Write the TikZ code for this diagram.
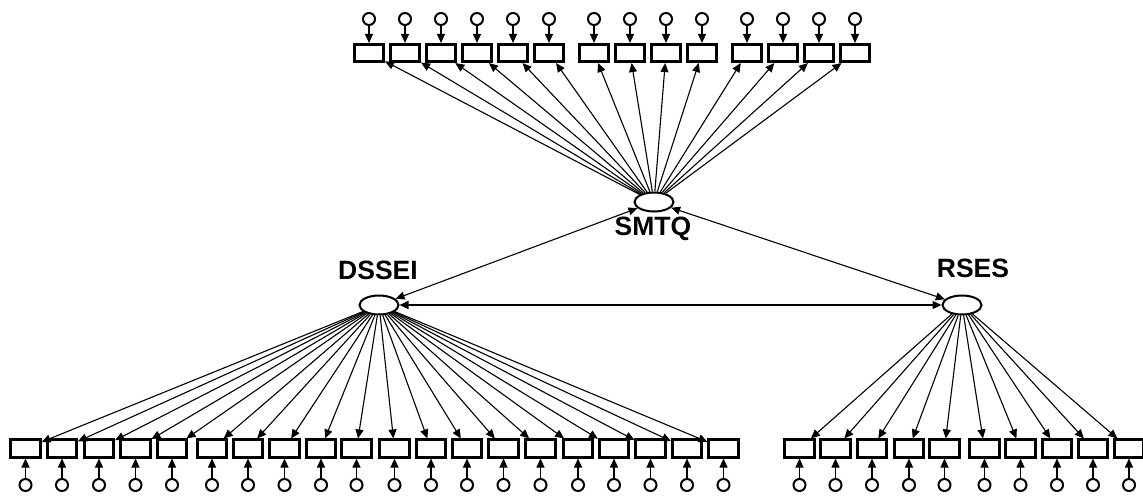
\documentclass[tikz,border=0pt]{standalone}
\usepackage{fontspec}
\setmainfont{Liberation Sans}
\usetikzlibrary{arrows.meta,positioning,shapes.geometric}

\begin{document}
\begin{tikzpicture}[x=1pt,y=-1pt,
  ind/.style={draw,line width=2.6pt,minimum width=29.5pt,minimum height=17.5pt,inner sep=0pt},
  err/.style={draw,circle,line width=2pt,minimum size=12pt,inner sep=0pt},
  lat/.style={draw,ellipse,line width=2pt,minimum width=39pt,minimum height=19pt,inner sep=0pt},
  lab/.style={font=\fontsize{26.5}{30}\selectfont\bfseries},
  link/.style={-{Triangle[length=9pt,width=8pt]},line width=1.1pt},
  cov/.style={{Triangle[length=9pt,width=8pt]}-{Triangle[length=9pt,width=8pt]},line width=1.1pt}]
  \useasboundingbox (0,0) rectangle (1143,496);
  % latent factors
  \node[lat] (smtq) at (654,202) {};
  \node[lat] (dssei) at (379,305) {};
  \node[lat] (rses) at (962,305) {};
  \node[lab] (smtqlab) at (653,229) {SMTQ};
  \node[lab] (dsseilab) at (378,270) {DSSEI};
  \node[lab] (rseslab) at (973,268) {RSES};
  % covariances
  \draw[cov] (smtq) -- (dssei);
  \draw[cov] (smtq) -- (rses);
  \draw[cov] (dssei) -- (rses);
  % SMTQ items
  \foreach \x [count=\i] in {369,405,441,477,513,549,594,630,666,702,747,783,819,855}{
    \node[ind] (t\i) at (\x,53) {};
    \node[err] (te\i) at (\x,19) {};
    \draw[link] (te\i) -- (t\i);
    \draw[link] (smtq) -- (t\i);
  }
  % DSSEI items
  \foreach \x [count=\i] in {25.5,62,99,135.5,172,212,248,284.5,321,356.5,394.5,431,467,503.5,540.5,578,614,650.5,687,723.5}{
    \node[ind] (d\i) at (\x,448.5) {};
    \node[err] (de\i) at (\x,485) {};
    \draw[link] (de\i) -- (d\i);
    \draw[link] (dssei) -- (d\i);
  }
  % RSES items
  \foreach \x [count=\i] in {799.5,835.5,872,909,944.5,984.5,1020.5,1057,1093,1129}{
    \node[ind] (r\i) at (\x,448.5) {};
    \node[err] (re\i) at (\x,485) {};
    \draw[link] (re\i) -- (r\i);
    \draw[link] (rses) -- (r\i);
  }
\end{tikzpicture}
\end{document}
